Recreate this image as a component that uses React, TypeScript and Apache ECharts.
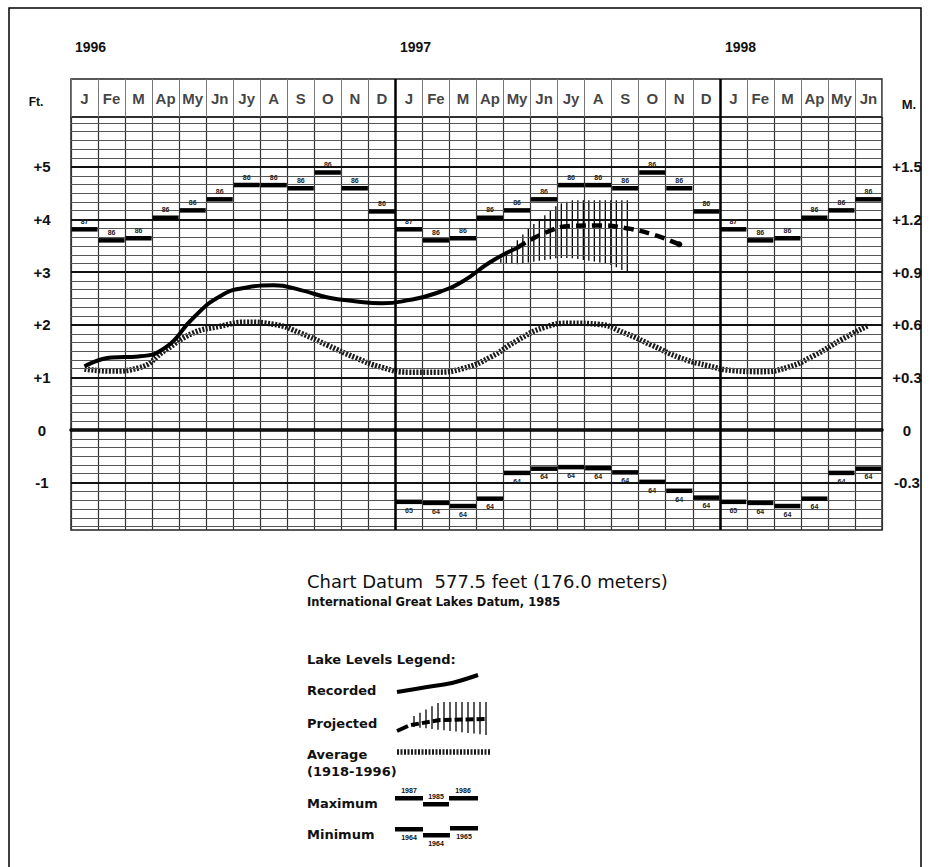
import React, { useEffect, useRef } from 'react';
import * as echarts from 'echarts';

// ---------- data ----------
const MONTHS = ['J', 'Fe', 'M', 'Ap', 'My', 'Jn', 'Jy', 'A', 'S', 'O', 'N', 'D'];
const MONTH_LABELS = [...MONTHS, ...MONTHS, 'J', 'Fe', 'M', 'Ap', 'My', 'Jn'];
const YEAR_LABELS = ['1996', '1997', '1998'];
const FT_TICKS = [5, 4, 3, 2, 1, 0, -1];
const FT_LABELS = ['+5', '+4', '+3', '+2', '+1', '0', '-1'];
const M_LABELS = ['+1.5', '+1.2', '+0.9', '+0.6', '+0.3', '0', '-0.3'];
const MINOR_PER_FT = 6;

// record high / low per calendar month (feet above chart datum)
const recordMax = [3.82, 3.61, 3.65, 4.04, 4.18, 4.39, 4.66, 4.66, 4.6, 4.9, 4.6, 4.16];
const recordMaxYear = ['87', '86', '86', '86', '86', '86', '86', '86', '86', '86', '86', '86'];
const recordMin = [-1.36, -1.38, -1.44, -1.3, -0.81, -0.73, -0.7, -0.72, -0.8, -0.98, -1.15, -1.28];
const recordMinYear = ['65', '64', '64', '64', '64', '64', '64', '64', '64', '64', '64', '64'];
const MIN_START_MONTH = 12;

// recorded levels Jan 1996 .. May 1997
const recorded = [1.21, 1.38, 1.4, 1.57, 2.12, 2.54, 2.71, 2.75, 2.66, 2.52, 2.45, 2.41, 2.47, 2.6, 2.83, 3.19, 3.46];
// projected levels May 1997 .. Nov 1997
const PROJ_START_MONTH = 16;
const projected = [3.46, 3.74, 3.88, 3.89, 3.84, 3.72, 3.53];
// projected range (hatched band) — position in months from Jan 1996
const bandPos = [15.9, 16.5, 17.0, 17.5, 18.0, 18.5, 19.0, 19.5, 20.0, 20.6];
const bandLow = [3.18, 3.15, 3.19, 3.23, 3.27, 3.27, 3.23, 3.19, 3.14, 2.98];
const bandHigh = [3.26, 3.6, 3.87, 4.07, 4.28, 4.37, 4.37, 4.37, 4.37, 4.37];
// long-term average 1918-1996, Jan 1996 .. Jun 1998
const average = [1.16, 1.12, 1.18, 1.52, 1.84, 1.97, 2.05, 2.01, 1.84, 1.61, 1.38, 1.19,
  1.1, 1.1, 1.17, 1.38, 1.7, 1.95, 2.03, 2.01, 1.84, 1.61, 1.38, 1.23,
  1.13, 1.11, 1.19, 1.42, 1.72, 1.99];

const Y_MIN = -1.9;
const Y_MAX = 5.95;

const FONT = 'Liberation Sans, Arial, sans-serif';
const WIDE = 'DejaVu Sans, Liberation Sans, sans-serif';
const INK = '#111';

function ftLabel(v: number) {
  const r = Math.round(v);
  if (Math.abs(v - r) > 1e-6) return '';
  const i = FT_TICKS.indexOf(r);
  return i >= 0 ? FT_LABELS[i] : '';
}
function mLabel(v: number) {
  const r = Math.round(v);
  if (Math.abs(v - r) > 1e-6) return '';
  const i = FT_TICKS.indexOf(r);
  return i >= 0 ? M_LABELS[i] : '';
}

function buildOption() {
  const nMonths = MONTH_LABELS.length;
  const maxData = MONTH_LABELS.map((_, m) => [m, recordMax[m % 12], m % 12]);
  const minData: number[][] = [];
  for (let m = MIN_START_MONTH; m < nMonths; m++) minData.push([m, recordMin[m % 12], m % 12]);

  // grid lines: minor every 1/6 ft, heavy at whole feet
  const gridLines: any[] = [];
  for (let k = Math.ceil(Y_MIN * MINOR_PER_FT); k <= Math.floor(Y_MAX * MINOR_PER_FT); k++) {
    if (k % MINOR_PER_FT === 0) continue;
    gridLines.push({ yAxis: k / MINOR_PER_FT, lineStyle: { color: '#555', width: 1, type: 'solid' } });
  }
  FT_TICKS.forEach((v) => gridLines.push({ yAxis: v, lineStyle: { color: '#111', width: 2, type: 'solid' } }));
  gridLines.push({ xAxis: 12, lineStyle: { color: '#000', width: 2.5, type: 'solid' } });
  gridLines.push({ xAxis: 24, lineStyle: { color: '#000', width: 2.5, type: 'solid' } });

  const barItem = (isMax: boolean) => (params: any, api: any) => {
    const m = api.value(0);
    const v = api.value(1);
    const k = api.value(2);
    const a = api.coord([m, v]);
    const b = api.coord([m + 1, v]);
    const label = isMax ? recordMaxYear[k] : recordMinYear[k];
    return {
      type: 'group',
      children: [
        { type: 'rect', shape: { x: a[0] + 0.5, y: a[1] - 2, width: b[0] - a[0] - 1, height: 4.5 }, style: { fill: '#000' } },
        {
          type: 'text',
          x: (a[0] + b[0]) / 2,
          y: isMax ? a[1] - 4 : a[1] + 5,
          style: { text: label, fill: '#222', font: `bold 7px ${FONT}`, align: 'center', verticalAlign: isMax ? 'bottom' : 'top' },
        },
      ],
    };
  };

  const bandItem = (params: any, api: any) => {
    const i = params.dataIndex;
    if (i >= bandPos.length - 1) return { type: 'group', children: [] };
    const l0 = api.coord([bandPos[i], bandLow[i]]);
    const h0 = api.coord([bandPos[i], bandHigh[i]]);
    const l1 = api.coord([bandPos[i + 1], bandLow[i + 1]]);
    const h1 = api.coord([bandPos[i + 1], bandHigh[i + 1]]);
    const origin = api.coord([bandPos[0], 0])[0];
    const step = 5.5;
    const children: any[] = [];
    let k = Math.ceil((l0[0] - origin) / step);
    for (let x = origin + k * step; x < l1[0] || (i === bandPos.length - 2 && x <= l1[0] + 0.01); x = origin + (++k) * step) {
      if (x < l0[0]) continue;
      const t = (x - l0[0]) / (l1[0] - l0[0]);
      const yl = l0[1] + (l1[1] - l0[1]) * t;
      const yh = h0[1] + (h1[1] - h0[1]) * t;
      children.push({ type: 'line', shape: { x1: x, y1: yh, x2: x, y2: yl }, style: { stroke: '#000', lineWidth: 1.3 } });
    }
    return { type: 'group', children };
  };

  // ---- legend graphics ----
  const LX = 307;
  const txt = (text: string, x: number, y: number, font: string, align = 'left', va = 'middle') => ({
    type: 'text', x, y, silent: true,
    style: { text, fill: INK, font, align, verticalAlign: va },
  });
  const legendFont = `bold 13px ${WIDE}`;
  const graphics: any[] = [
    { type: 'rect', silent: true, shape: { x: 9, y: 8, width: 912, height: 900 }, style: { fill: 'none', stroke: '#000', lineWidth: 1.5 } },
    txt(YEAR_LABELS[0], 75, 47, `bold 14px ${FONT}`),
    txt(YEAR_LABELS[1], 400, 47, `bold 14px ${FONT}`),
    txt(YEAR_LABELS[2], 725, 47, `bold 14px ${FONT}`),
    txt('Ft.', 36, 102, `bold 12px ${FONT}`, 'center'),
    txt('M.', 909, 104, `bold 13px ${FONT}`, 'center'),
    txt('Chart Datum  577.5 feet (176.0 meters)', LX, 581, `18px ${WIDE}`),
    txt('International Great Lakes Datum, 1985', LX, 602, `bold 11.5px ${WIDE}`),
    txt('Lake Levels Legend:', LX, 659, legendFont),
    txt('Recorded', LX, 690, legendFont),
    txt('Projected', LX, 723, legendFont),
    txt('Average', LX, 754, legendFont),
    txt('(1918-1996)', LX, 771, legendFont),
    txt('Maximum', LX, 803, legendFont),
    txt('Minimum', LX, 834, legendFont),
    // recorded sample
    { type: 'polyline', silent: true, shape: { points: [[397, 692], [427, 687], [452, 683], [478, 675]], smooth: 0.3 }, style: { stroke: '#000', lineWidth: 4, fill: 'none' } },
    // projected sample
    { type: 'line', silent: true, shape: { x1: 397, y1: 731, x2: 408, y2: 726 }, style: { stroke: '#000', lineWidth: 4 } },
    { type: 'polyline', silent: true, shape: { points: [[411, 725], [440, 720], [487, 719]] }, style: { stroke: '#000', lineWidth: 4, fill: 'none', lineDash: [8, 3] } },
    // average sample
    { type: 'line', silent: true, shape: { x1: 397, y1: 752, x2: 490, y2: 752 }, style: { stroke: '#1a1a1a', lineWidth: 5.5, lineDash: [2, 1.5] } },
    // maximum sample
    { type: 'rect', silent: true, shape: { x: 395, y: 796, width: 28, height: 4.5 }, style: { fill: '#000' } },
    { type: 'rect', silent: true, shape: { x: 423, y: 802, width: 26, height: 4.5 }, style: { fill: '#000' } },
    { type: 'rect', silent: true, shape: { x: 449, y: 796, width: 29, height: 4.5 }, style: { fill: '#000' } },
    txt('1987', 409, 794, `bold 7px ${FONT}`, 'center', 'bottom'),
    txt('1985', 436, 800, `bold 7px ${FONT}`, 'center', 'bottom'),
    txt('1986', 463, 794, `bold 7px ${FONT}`, 'center', 'bottom'),
    // minimum sample
    { type: 'rect', silent: true, shape: { x: 395, y: 827, width: 28, height: 4.5 }, style: { fill: '#000' } },
    { type: 'rect', silent: true, shape: { x: 423, y: 833, width: 27, height: 4.5 }, style: { fill: '#000' } },
    { type: 'rect', silent: true, shape: { x: 450, y: 826, width: 28, height: 4.5 }, style: { fill: '#000' } },
    txt('1964', 409, 834, `bold 7px ${FONT}`, 'center', 'top'),
    txt('1964', 436, 840, `bold 7px ${FONT}`, 'center', 'top'),
    txt('1965', 464, 833, `bold 7px ${FONT}`, 'center', 'top'),
  ];
  // projected sample hatching
  for (let x = 414; x <= 487; x += 6) {
    const t = Math.min(1, (x - 414) / 26);
    const top = 716 - 14 * t;
    const bot = 727 + 8 * ((x - 414) / 73);
    graphics.push({ type: 'line', silent: true, shape: { x1: x, y1: top, x2: x, y2: bot }, style: { stroke: '#000', lineWidth: 1.3 } });
  }

  return {
    animation: false,
    backgroundColor: '#fff',
    textStyle: { fontFamily: FONT },
    grid: [
      { left: 71, top: 117, width: 811, height: 413, show: true, borderColor: '#222', borderWidth: 1.5 },
      { left: 71, top: 79, width: 811, height: 38, show: true, borderColor: '#222', borderWidth: 1.5 },
    ],
    xAxis: [
      {
        gridIndex: 0, type: 'value', min: 0, max: nMonths, interval: 1, position: 'top',
        axisLine: { show: true, lineStyle: { color: '#000', width: 3.5 } },
        axisTick: { show: false }, axisLabel: { show: false },
        splitLine: { show: true, lineStyle: { color: '#333', width: 1.2 } },
      },
      {
        gridIndex: 1, type: 'value', min: 0, max: nMonths, interval: 1,
        axisLine: { show: false }, axisTick: { show: false }, axisLabel: { show: false },
        splitLine: { show: true, lineStyle: { color: '#777', width: 1 } },
      },
    ],
    yAxis: [
      {
        gridIndex: 0, type: 'value', min: Y_MIN, max: Y_MAX, interval: 0.1, position: 'left',
        axisLine: { show: false }, axisTick: { show: false },
        axisLabel: { show: true, customValues: FT_TICKS, formatter: (v: number) => ftLabel(v), margin: 29, align: 'center', color: INK, fontSize: 15, fontWeight: 'bold', fontFamily: FONT },
        splitLine: { show: false },
      },
      {
        gridIndex: 0, type: 'value', min: Y_MIN, max: Y_MAX, interval: 0.1, position: 'right',
        axisLine: { show: false }, axisTick: { show: false },
        axisLabel: { show: true, customValues: FT_TICKS, formatter: (v: number) => mLabel(v), margin: 25, align: 'center', color: INK, fontSize: 15, fontWeight: 'bold', fontFamily: FONT },
        splitLine: { show: false },
      },
      { gridIndex: 1, type: 'value', min: 0, max: 1, show: false },
    ],
    graphic: graphics,
    series: [
      {
        name: 'Average', type: 'line', xAxisIndex: 0, yAxisIndex: 0, smooth: 0.5, symbol: 'none', silent: true,
        data: average.map((v, i) => [i + 0.5, v]),
        lineStyle: { color: '#1a1a1a', width: 5.5, type: [2, 1.5] },
        markLine: {
          silent: true, symbol: ['none', 'none'], label: { show: false },
          lineStyle: { color: '#555', width: 1, type: 'solid' },
          data: gridLines,
        },
        z: 3,
      },
      {
        name: 'Projected range', type: 'custom', xAxisIndex: 0, yAxisIndex: 0, silent: true,
        data: bandPos.map((p, i) => [p, bandLow[i], bandHigh[i]]),
        encode: { x: 0, y: [1, 2] },
        renderItem: bandItem, z: 4,
      },
      {
        name: 'Recorded', type: 'line', xAxisIndex: 0, yAxisIndex: 0, smooth: 0.5, symbol: 'none', silent: true,
        data: recorded.map((v, i) => [i + 0.5, v]),
        lineStyle: { color: '#000', width: 4 }, z: 5,
      },
      {
        name: 'Projected', type: 'line', xAxisIndex: 0, yAxisIndex: 0, smooth: 0.5, symbol: 'none', showSymbol: true, silent: true,
        data: projected.map((v, i) => (i === projected.length - 1
          ? { value: [PROJ_START_MONTH + i + 0.5, v], symbol: 'circle', symbolSize: 6, itemStyle: { color: '#000' } }
          : [PROJ_START_MONTH + i + 0.5, v])),
        lineStyle: { color: '#000', width: 4.5, type: [10, 6] }, z: 5,
      },
      {
        name: 'Maximum', type: 'custom', xAxisIndex: 0, yAxisIndex: 0, silent: true,
        data: maxData, encode: { x: 0, y: 1 }, renderItem: barItem(true), z: 6,
      },
      {
        name: 'Minimum', type: 'custom', xAxisIndex: 0, yAxisIndex: 0, silent: true,
        data: minData, encode: { x: 0, y: 1 }, renderItem: barItem(false), z: 6,
      },
      {
        name: 'Months', type: 'scatter', xAxisIndex: 1, yAxisIndex: 2, silent: true,
        symbolSize: 1, itemStyle: { color: 'rgba(0,0,0,0)' },
        data: MONTH_LABELS.map((t, i) => ({ value: [i + 0.5, 0.5], name: t })),
        label: { show: true, position: 'inside', formatter: (p: any) => p.name, color: INK, fontSize: 15, fontWeight: 'bold', fontFamily: FONT },
        markLine: {
          silent: true, symbol: ['none', 'none'], label: { show: false },
          lineStyle: { color: '#000', width: 2.5, type: 'solid' },
          data: [{ xAxis: 12 }, { xAxis: 24 }],
        },
      },
    ],
  };
}

export default function App() {
  const ref = useRef<HTMLDivElement>(null);
  useEffect(() => {
    const chart = echarts.init(ref.current!, null, { renderer: 'svg' });
    chart.setOption(buildOption() as any);
    return () => chart.dispose();
  }, []);
  return <div ref={ref} style={{ position: 'absolute', left: 0, top: 0, width: 933, height: 867, background: '#fff' }} />;
}
